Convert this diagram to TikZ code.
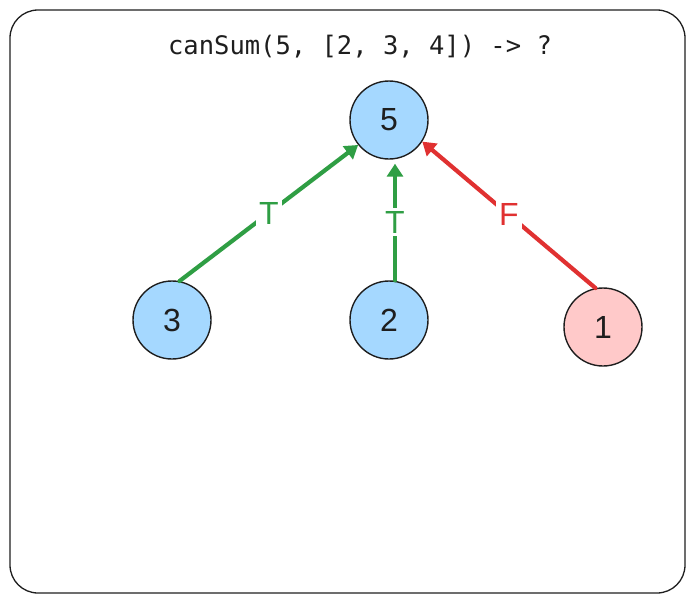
\documentclass[tikz,border=0pt]{standalone}
\usepackage{fontspec}
\setmainfont{Liberation Sans}
\newfontfamily\codefont{DejaVu Sans Mono}
\usetikzlibrary{arrows.meta}
\definecolor{ink}{HTML}{1E1E1E}
\definecolor{nodeblue}{HTML}{A5D8FF}
\definecolor{nodered}{HTML}{FFC9C9}
\definecolor{edgegreen}{HTML}{2F9E44}
\definecolor{edgered}{HTML}{E03131}
\tikzset{
  numnode/.style={circle, draw=ink, line width=1.4pt, minimum size=78pt, inner sep=0pt, text=ink, font=\fontsize{32}{34}\selectfont},
  bluenode/.style={numnode, fill=nodeblue},
  rednode/.style={numnode, fill=nodered},
  edge/.style={line width=4.2pt, -{Triangle[length=13pt,width=16pt]}, line cap=round},
  elabel/.style={fill=white, inner sep=3pt, font=\fontsize{32}{34}\selectfont},
}
\begin{document}
\begin{tikzpicture}[x=1pt,y=-1pt]
\useasboundingbox (0,0) rectangle (694,603);
\draw[ink, line width=1.3pt, rounded corners=28pt] (10,10) rectangle (685,593);
\node[font=\codefont\fontsize{25.5}{28}\selectfont, text=ink] (title) at (360,47) {canSum(5, [2, 3, 4]) -> ?};
\node[bluenode] (n5) at (389,120) {5};
\node[bluenode] (n3) at (172,320) {3};
\node[bluenode] (n2) at (389,320) {2};
\node[rednode] (n1) at (603,327) {1};
\draw[edge, edgegreen] (n3.79) -- (n5.219) node[elabel, midway, text=edgegreen] {T};
\draw[edge, edgegreen] ([xshift=6pt]n2.north) -- ([xshift=6pt,yshift=-4pt]n5.south) node[elabel, midway, text=edgegreen] {T};
\draw[edge, edgered] (n1.101) -- (n5.327) node[elabel, midway, text=edgered] {F};
\end{tikzpicture}
\end{document}
